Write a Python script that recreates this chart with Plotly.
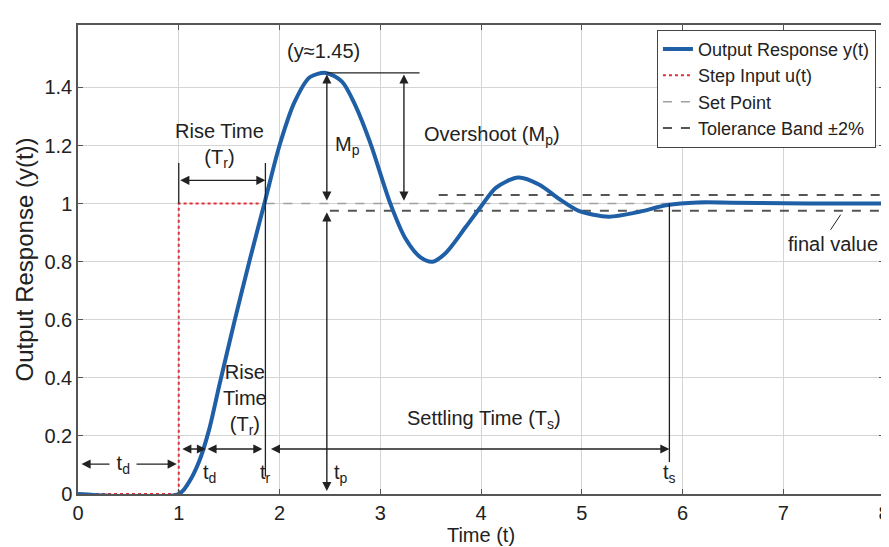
import plotly.graph_objects as go

# ---------------- data ----------------
time = [0.0, 1.0, 1.1, 1.2, 1.3, 1.4, 1.55, 1.7, 1.85, 2.0, 2.15, 2.3, 2.46,
        2.62, 2.75, 2.9, 3.1, 3.25, 3.4, 3.52, 3.65, 3.85, 4.0, 4.15, 4.37,
        4.58, 4.78, 4.97, 5.27, 5.55, 5.85, 6.15, 6.5, 7.0, 7.5, 8.0]
response = [0.0, 0.0, 0.04, 0.11, 0.22, 0.37, 0.59, 0.80, 1.0, 1.2, 1.35, 1.435, 1.45,
            1.42, 1.34, 1.21, 1.0, 0.88, 0.815, 0.80, 0.83, 0.92, 0.99, 1.055, 1.09,
            1.065, 1.015, 0.975, 0.955, 0.97, 0.995, 1.004, 1.003, 1.001, 1.0, 1.0]

t_delay = 1.27      # t_d
t_step = 1.0        # step time
t_rise = 1.86       # t_r
t_peak = 2.47       # t_p
t_settle = 5.87     # t_s
y_peak = 1.45
y_final = 1.0
band_hi = 1.03
band_lo = 0.975

step_t = [0.0, t_step, t_step, 1.82]
step_y = [0.0, 0.0, 1.0, 1.0]
setpoint_t = [t_rise, 8.0]
setpoint_y = [y_final, y_final]
band_hi_t = [3.58, 8.0]
band_lo_t = [2.5, 8.0]

x_ticks = [0, 1, 2, 3, 4, 5, 6, 7, 8]
y_ticks = [0, 0.2, 0.4, 0.6, 0.8, 1, 1.2, 1.4]
y_tick_text = ["0", "0.2", "0.4", "0.6", "0.8", "1", "1.2", "1.4"]

FONT = "Liberation Sans, Arial, sans-serif"
INK = "#222222"
FS = 20

fig = go.Figure()
fig.add_trace(go.Scatter(x=band_hi_t, y=[band_hi, band_hi], mode="lines",
                         line=dict(color="#555555", width=2, dash="dash"),
                         showlegend=False))
fig.add_trace(go.Scatter(x=band_lo_t, y=[band_lo, band_lo], mode="lines",
                         line=dict(color="#555555", width=2, dash="dash"),
                         showlegend=False))
fig.add_trace(go.Scatter(x=setpoint_t, y=setpoint_y, mode="lines",
                         line=dict(color="#a0a0a0", width=1.5, dash="dash"),
                         showlegend=False))
fig.add_trace(go.Scatter(x=step_t, y=step_y, mode="lines",
                         line=dict(color="#e0303a", width=2, dash="dot"),
                         showlegend=False))
fig.add_trace(go.Scatter(x=time, y=response, mode="lines",
                         line=dict(color="#1f5fa6", width=4, shape="spline", smoothing=0.8),
                         name="Output Response y(t)"))
# legend entries (order as in reference)
fig.add_trace(go.Scatter(x=[None], y=[None], mode="lines",
                         line=dict(color="#e0303a", width=2, dash="dot"),
                         name="Step Input u(t)"))
fig.add_trace(go.Scatter(x=[None], y=[None], mode="lines",
                         line=dict(color="#a0a0a0", width=1.5, dash="dash"),
                         name="Set Point"))
fig.add_trace(go.Scatter(x=[None], y=[None], mode="lines",
                         line=dict(color="#555555", width=2, dash="dash"),
                         name="Tolerance Band ±2%"))

shapes = []
def vline(x, y0, y1, w=1.3):
    shapes.append(dict(type="line", xref="x", yref="y", x0=x, x1=x, y0=y0, y1=y1,
                       line=dict(color=INK, width=w)))
def hline(y, x0, x1, w=1.3):
    shapes.append(dict(type="line", xref="x", yref="y", x0=x0, x1=x1, y0=y, y1=y,
                       line=dict(color=INK, width=w)))

hline(y_peak, t_peak, 3.39)
vline(t_rise, 0.06, 1.14)
vline(t_step, 1.0, 1.14)
vline(t_settle, 0.11, y_final)
shapes.append(dict(type="line", xref="x", yref="y", x0=7.57, y0=0.962, x1=7.47, y1=0.91,
                   line=dict(color=INK, width=1)))

annotations = []
def darrow(x0, y0, x1, y1, side="end+start"):
    annotations.append(dict(x=x1, y=y1, ax=x0, ay=y0, xref="x", yref="y",
                            axref="x", ayref="y", text="", showarrow=True,
                            arrowhead=2, startarrowhead=2, arrowside=side,
                            arrowsize=1.3, startarrowsize=1.3, arrowwidth=1.4,
                            arrowcolor=INK, standoff=0, startstandoff=0))
def label(x, y, text, size=FS, bg=None, xanchor="center"):
    d = dict(x=x, y=y, xref="x", yref="y", text=text, showarrow=False,
             font=dict(family=FONT, size=size, color=INK), xanchor=xanchor)
    if bg:
        d["bgcolor"] = bg
    annotations.append(d)

# overshoot / Mp / tp arrows
darrow(3.235, y_peak, 3.235, 1.01)
darrow(t_peak, y_peak, t_peak, 1.01)
darrow(t_peak, 0.975, t_peak, 0.01)
# rise time top arrow
darrow(t_step, 1.08, t_rise, 1.08)
# bottom arrows
darrow(0.02, 0.103, t_step - 0.02, 0.103)
darrow(t_step + 0.02, 0.155, t_delay, 0.155)
darrow(t_delay, 0.155, t_rise - 0.03, 0.155)
darrow(t_rise + 0.04, 0.155, t_settle, 0.155)

label(2.44, 1.525, "(y≈1.45)")
label(4.11, 1.235, "Overshoot (M<sub>p</sub>)")
label(2.53, 1.2, "M<sub>p</sub>", xanchor="left")
label(1.40, 1.2, "Rise Time<br>(T<sub>r</sub>)")
label(1.66, 0.325, "Rise<br>Time<br>(T<sub>r</sub>)")
label(0.45, 0.103, " t<sub>d</sub> ", bg="white")
label(t_delay + 0.04, 0.07, "t<sub>d</sub>")
label(t_rise, 0.07, "t<sub>r</sub>")
label(t_peak + 0.14, 0.07, "t<sub>p</sub>")
label(t_settle, 0.07, "t<sub>s</sub>")
label(4.03, 0.255, "Settling Time (T<sub>s</sub>)")
label(7.49, 0.862, "final value")

axis_common = dict(showgrid=True, gridcolor="#d4d4d4", gridwidth=1,
                   showline=True, linecolor="#555555", linewidth=1.5, mirror="ticks",
                   ticks="inside", ticklen=5, tickcolor="#555555", zeroline=False,
                   tickfont=dict(family=FONT, size=20, color=INK))

fig.update_layout(
    width=889, height=547,
    margin=dict(l=70, r=7, t=17, b=61),
    paper_bgcolor="white", plot_bgcolor="white",
    shapes=shapes, annotations=annotations,
    xaxis=dict(range=[0, 8], tickvals=x_ticks, ticklabeloverflow="allow",
               title=dict(text="Time (t)", font=dict(family=FONT, size=20, color=INK), standoff=0),
               **axis_common),
    yaxis=dict(range=[0, 1.615], tickvals=y_ticks, ticktext=y_tick_text,
               title=dict(text="Output Response (y(t))", font=dict(family=FONT, size=24, color=INK), standoff=4),
               **axis_common),
    legend=dict(x=0.99, y=0.99, xanchor="right", yanchor="top",
                bgcolor="white", bordercolor="#444444", borderwidth=1,
                font=dict(family=FONT, size=18, color=INK), tracegroupgap=0),
    showlegend=True,
)

fig.write_html("out.html")
